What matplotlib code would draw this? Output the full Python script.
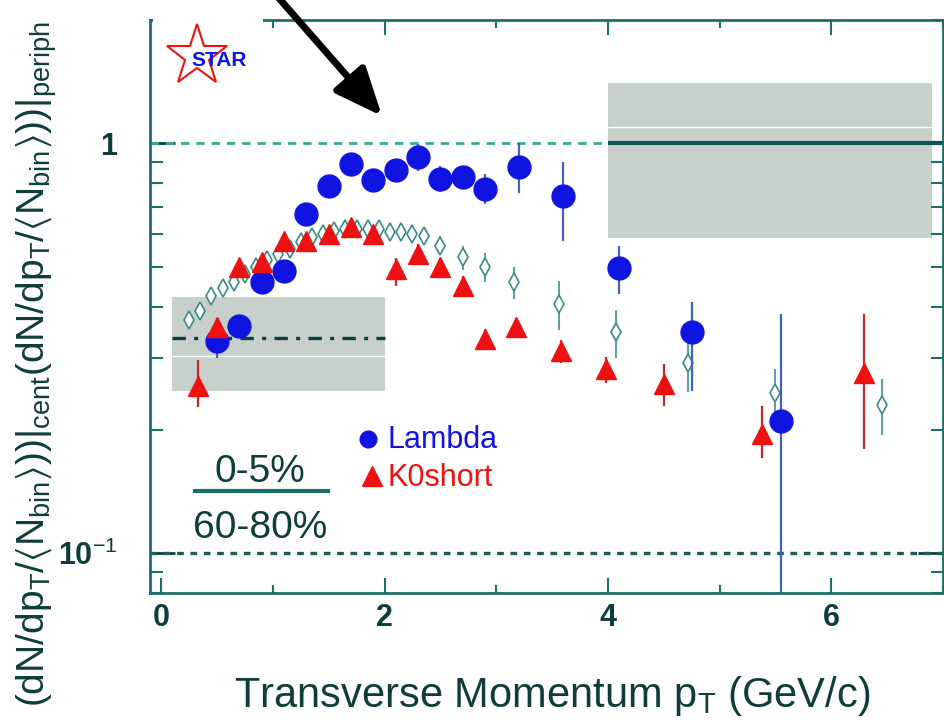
import matplotlib.pyplot as plt
import numpy as np
from matplotlib.patches import Rectangle, FancyArrowPatch
from matplotlib.lines import Line2D
from matplotlib.ticker import MultipleLocator, LogLocator, NullFormatter, FixedLocator, FixedFormatter

plt.rcParams['font.family'] = ['Liberation Sans', 'DejaVu Sans']
plt.rcParams['mathtext.fontset'] = 'custom'
plt.rcParams['mathtext.rm'] = 'Liberation Sans'
plt.rcParams['mathtext.it'] = 'Liberation Sans:italic'
plt.rcParams['mathtext.bf'] = 'Liberation Sans:bold'
plt.rcParams['mathtext.fallback'] = 'stixsans'

# Lambda: R_CP vs pT
lam_pt = [0.5, 0.7, 0.9, 1.1, 1.3, 1.5, 1.7, 1.9, 2.1, 2.3, 2.5, 2.7, 2.9, 3.2, 3.6, 4.1, 4.75, 5.55]
lam_rcp = [0.330, 0.359, 0.458, 0.487, 0.673, 0.789, 0.892, 0.812, 0.859, 0.926, 0.820, 0.827,
           0.775, 0.875, 0.746, 0.497, 0.346, 0.210]
lam_err_lo = [0.03, 0.02, 0.03, 0.03, 0.04, 0.05, 0.05, 0.05, 0.05, 0.07, 0.06, 0.05,
              0.065, 0.12, 0.167, 0.067, 0.097, 0.205]
lam_err_hi = [0.03, 0.02, 0.03, 0.03, 0.04, 0.05, 0.05, 0.05, 0.05, 0.07, 0.06, 0.05,
              0.065, 0.125, 0.154, 0.066, 0.064, 0.174]

# K0short
k0_pt = [0.33, 0.5, 0.7, 0.9, 1.1, 1.3, 1.5, 1.7, 1.9, 2.1, 2.3, 2.5, 2.7, 2.9, 3.18, 3.58,
         3.98, 4.5, 5.38, 6.29]
k0_rcp = [0.256, 0.356, 0.499, 0.513, 0.579, 0.579, 0.602, 0.624, 0.602, 0.494, 0.537, 0.499,
          0.450, 0.333, 0.356, 0.312, 0.281, 0.259, 0.195, 0.276]
k0_err_lo = [0.028, 0.02, 0.02, 0.02, 0.02, 0.02, 0.02, 0.02, 0.02, 0.045, 0.03, 0.025,
             0.025, 0.02, 0.02, 0.02, 0.02, 0.03, 0.024, 0.096]
k0_err_hi = [0.04, 0.02, 0.02, 0.02, 0.02, 0.02, 0.02, 0.02, 0.02, 0.03, 0.03, 0.025,
             0.025, 0.02, 0.02, 0.02, 0.02, 0.03, 0.034, 0.108]

# charged hadrons (open diamonds)
h_pt = [0.25, 0.35, 0.45, 0.55, 0.65, 0.75, 0.85, 0.95, 1.05, 1.15, 1.25, 1.35, 1.45, 1.55,
        1.65, 1.75, 1.85, 1.95, 2.05, 2.15, 2.25, 2.35, 2.5, 2.7, 2.9, 3.16, 3.56, 4.07, 4.72,
        5.5, 6.45]
h_rcp = [0.371, 0.391, 0.425, 0.444, 0.458, 0.480, 0.499, 0.518, 0.537, 0.553, 0.574, 0.590,
         0.602, 0.613, 0.619, 0.619, 0.619, 0.619, 0.607, 0.607, 0.602, 0.596, 0.563, 0.527,
         0.499, 0.458, 0.406, 0.346, 0.292, 0.246, 0.230]
h_err = [0.012, 0.012, 0.012, 0.012, 0.012, 0.014, 0.014, 0.015, 0.015, 0.016, 0.017, 0.018,
         0.02, 0.02, 0.022, 0.022, 0.022, 0.022, 0.024, 0.024, 0.025, 0.026, 0.03, 0.035,
         0.04, 0.04, 0.055, 0.047, 0.045, 0.036, 0.036]

# N_part / N_bin scaling bands: (x0, x1, y_lo, y_hi)
npart_band = (0.1, 2.0, 0.249, 0.422)
npart_level = 0.336
nbin_band = (4.0, 6.9, 0.589, 1.40)
nbin_level = 1.0

teal = '#1d6f6a'
dark = '#0f3d3a'
grey = '#c8d0cb'

fig = plt.figure(figsize=(9.44, 7.24), dpi=100)
ax = fig.add_axes([150 / 944, 131 / 724, 793 / 944, 573 / 724])
ax.set_yscale('log')
ax.set_xlim(-0.1, 7.0)
ax.set_ylim(0.08, 2.0)

# grey bands
ax.add_patch(Rectangle((npart_band[0], npart_band[2]), npart_band[1] - npart_band[0],
                       npart_band[3] - npart_band[2], facecolor=grey, edgecolor='none', zorder=1))
ax.add_patch(Rectangle((nbin_band[0], nbin_band[2]), nbin_band[1] - nbin_band[0],
                       nbin_band[3] - nbin_band[2], facecolor=grey, edgecolor='none', zorder=1))
ax.hlines(0.303, npart_band[0], npart_band[1], color='white', lw=1, zorder=1.5)
ax.hlines(1.096, nbin_band[0], nbin_band[1], color='white', lw=1, zorder=1.5)

# reference lines
ax.hlines(npart_level, npart_band[0], npart_band[1], color=dark, lw=2.4,
          linestyles=(0, (4, 2.5, 1.2, 2.5)), zorder=2)
ax.hlines(nbin_level, -0.1, nbin_band[0], color='#3aa6a0', lw=2, linestyles=(0, (3, 2.5)), zorder=2)
ax.hlines(nbin_level, nbin_band[0], 7.0, color='#0d5550', lw=3, zorder=2)
ax.hlines(0.1, -0.1, 7.0, color='#1f5c58', lw=2.4, linestyles=(0, (2, 2)), zorder=2)

# data
ax.errorbar(h_pt, h_rcp, yerr=h_err, fmt='d', ms=9, mfc='white', mec='#3a8a85', mew=1.2,
            ecolor='#4a9a95', elinewidth=1.3, capsize=0, zorder=3)
ax.errorbar(lam_pt, lam_rcp, yerr=[lam_err_lo, lam_err_hi], fmt='o', ms=16.5, color='#1014e0',
            ecolor='#4060c8', elinewidth=1.6, capsize=0, zorder=4)
ax.errorbar(k0_pt, k0_rcp, yerr=[k0_err_lo, k0_err_hi], fmt='^', ms=15, color='#ee1111',
            ecolor='#c02a2a', elinewidth=1.6, capsize=0, zorder=5)

# ticks
ax.xaxis.set_major_locator(FixedLocator([0, 2, 4, 6]))
ax.xaxis.set_minor_locator(MultipleLocator(1))
ax.yaxis.set_major_locator(FixedLocator([0.1, 1]))
ax.yaxis.set_major_formatter(FixedFormatter([r'$\mathbf{10}^{-1}$', r'$\mathbf{1}$']))
ax.yaxis.set_minor_locator(LogLocator(base=10, subs=np.arange(2, 10)))
ax.yaxis.set_minor_formatter(NullFormatter())
ax.tick_params(axis='x', which='major', direction='in', length=11, width=1.5, color=teal,
               top=True, labelsize=22, labelcolor=dark, pad=7)
ax.tick_params(axis='x', which='minor', direction='in', length=6, width=1.5, color=teal, top=True)
ax.tick_params(axis='y', which='major', direction='in', length=18, width=2, color=dark,
               right=True, labelsize=22, labelcolor=dark, pad=23)
ax.tick_params(axis='y', which='minor', direction='in', length=9, width=1.5, color=teal, right=True)
for lab in ax.get_xticklabels():
    lab.set_fontweight('bold')
for side in ['top', 'right', 'bottom', 'left']:
    ax.spines[side].set_color(teal)
    ax.spines[side].set_linewidth(2)

# legend
ax.plot([0.275], [0.269], 'o', ms=12, color='#1014e0', transform=ax.transAxes, clip_on=False)
ax.text(0.299, 0.253, 'Lambda', color='#1014e0', fontsize=22, transform=ax.transAxes, va='baseline')
ax.plot([0.280], [0.204], '^', ms=15, color='#ee1111', transform=ax.transAxes, clip_on=False)
ax.text(0.299, 0.187, 'K0short', color='#ee1111', fontsize=22, transform=ax.transAxes, va='baseline')

# centrality ratio label
ax.text(0.1387, 0.194, '0-5%', color=dark, fontsize=28, ha='center', va='baseline',
        transform=ax.transAxes)
ax.plot([0.0567, 0.2245], [0.178, 0.178], color=teal, lw=3, transform=ax.transAxes)
ax.text(0.1387, 0.096, '60-80%', color=dark, fontsize=28, ha='center', va='baseline',
        transform=ax.transAxes)

# axis titles
fig.text(552 / 944, 1 - 707 / 724, r'Transverse Momentum p$_\mathrm{T}$ (GeV/c)', fontsize=30,
         color=dark, ha='center', va='baseline')
fig.text(37 / 944, 0.497,
         r'$\mathrm{(dN/dp_T/\langle N_{bin}\rangle))|_{cent}(dN/dp_T/\langle N_{bin}\rangle))|_{periph}}$',
         fontsize=28, color=dark, rotation=90, ha='center', va='center')

# STAR logo block
fig.add_artist(Rectangle((153 / 944, 1 - 96 / 724), 110 / 944, 96 / 724, transform=fig.transFigure,
                         facecolor='white', edgecolor='none', zorder=5))
fig.add_artist(Line2D([197 / 944], [1 - 56 / 724], transform=fig.transFigure, marker='*', ms=46,
                      mfc='white', mec='#ee1111', mew=1.5, ls='none', zorder=6))
fig.text(219 / 944, 1 - 60 / 724, 'STAR', color='#1014e0', fontsize=15, fontweight='bold',
         ha='center', va='center', zorder=7)

# arrow pointing at the Lambda peak
fig.add_artist(FancyArrowPatch((270 / 944, 1 + 12 / 724), (382 / 944, 1 - 116 / 724),
                               transform=fig.transFigure, color='black', lw=5,
                               arrowstyle='-|>,head_length=1.45,head_width=0.62',
                               mutation_scale=20, shrinkA=0, shrinkB=0, zorder=8))

fig.savefig('out.png', dpi=100)
